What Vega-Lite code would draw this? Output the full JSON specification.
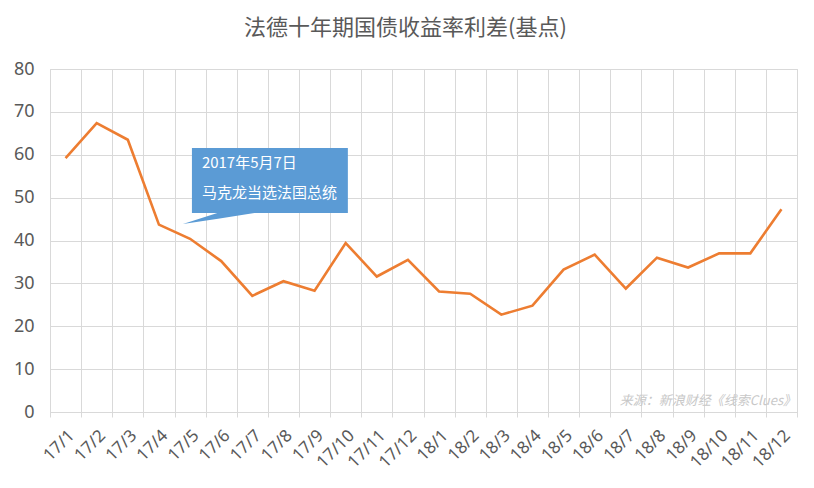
{
  "$schema": "https://vega.github.io/schema/vega-lite/v6.json",
  "autosize": "none",
  "width": 747,
  "height": 343,
  "padding": {"left": 50, "top": 69, "right": 17, "bottom": 76},
  "background": "white",
  "title": {
    "text": "法德十年期国债收益率利差(基点)",
    "font": "Noto Sans CJK SC",
    "fontSize": 22,
    "fontWeight": "normal",
    "color": "#595959",
    "anchor": "middle",
    "offset": 20,
    "dx": -18
  },
  "config": {"view": {"stroke": "#d9d9d9"}},
  "resolve": {"scale": {"x": "independent"}},
  "layer": [
    {
      "data": {
        "values": [
          {"month": "17/1", "value": 59.2},
          {"month": "17/2", "value": 67.4},
          {"month": "17/3", "value": 63.5},
          {"month": "17/4", "value": 43.7},
          {"month": "17/5", "value": 40.4},
          {"month": "17/6", "value": 35.2},
          {"month": "17/7", "value": 27.1},
          {"month": "17/8", "value": 30.5},
          {"month": "17/9", "value": 28.3},
          {"month": "17/10", "value": 39.4},
          {"month": "17/11", "value": 31.6},
          {"month": "17/12", "value": 35.5},
          {"month": "18/1", "value": 28.1},
          {"month": "18/2", "value": 27.6},
          {"month": "18/3", "value": 22.7},
          {"month": "18/4", "value": 24.8},
          {"month": "18/5", "value": 33.2},
          {"month": "18/6", "value": 36.7},
          {"month": "18/7", "value": 28.8},
          {"month": "18/8", "value": 36.0},
          {"month": "18/9", "value": 33.7},
          {"month": "18/10", "value": 37.0},
          {"month": "18/11", "value": 37.0},
          {"month": "18/12", "value": 47.3}
        ]
      },
      "mark": {"type": "line", "color": "#ED7D31", "strokeWidth": 2.6},
      "encoding": {
        "x": {
          "field": "month",
          "type": "ordinal",
          "sort": null,
          "scale": {"type": "band", "paddingInner": 0, "paddingOuter": 0},
          "axis": {
            "title": null,
            "tickBand": "extent",
            "grid": true,
            "gridColor": "#d9d9d9",
            "domain": true,
            "domainColor": "#d9d9d9",
            "ticks": true,
            "tickColor": "#d9d9d9",
            "tickSize": 5,
            "labelAngle": -45,
            "labelFont": "Noto Sans",
            "labelFontSize": 17,
            "labelColor": "#595959",
            "labelPadding": 10
          }
        },
        "y": {
          "field": "value",
          "type": "quantitative",
          "scale": {"domain": [0, 80], "nice": false},
          "axis": {
            "title": null,
            "values": [0, 10, 20, 30, 40, 50, 60, 70, 80],
            "grid": true,
            "gridColor": "#d9d9d9",
            "domain": false,
            "ticks": false,
            "labelFont": "Noto Sans",
            "labelFontSize": 18,
            "labelColor": "#595959",
            "labelPadding": 16
          }
        }
      }
    },
    {
      "data": {"values": [{"x": 4.56, "x2": 9.57, "y": 61.6, "y2": 46.4}]},
      "mark": {"type": "rect", "fill": "#5B9BD5"},
      "encoding": {
        "x": {"field": "x", "type": "quantitative", "scale": {"domain": [0, 24], "nice": false, "zero": false}, "axis": null},
        "x2": {"field": "x2"},
        "y": {"field": "y", "type": "quantitative", "axis": {"title": null}},
        "y2": {"field": "y2"}
      }
    },
    {
      "data": {
        "values": [
          {"px": 4.27, "top": 43.85, "bot": 43.85},
          {"px": 5.4, "top": 46.5, "bot": 45.06},
          {"px": 6.65, "top": 46.5, "bot": 46.5}
        ]
      },
      "mark": {"type": "area", "fill": "#5B9BD5", "interpolate": "linear"},
      "encoding": {
        "x": {"field": "px", "type": "quantitative", "scale": {"domain": [0, 24], "nice": false, "zero": false}, "axis": null},
        "y": {"field": "top", "type": "quantitative", "axis": {"title": null}},
        "y2": {"field": "bot"}
      }
    },
    {
      "data": {
        "values": [
          {"x": 4.88, "y": 58.1, "t": "2017年5月7日"},
          {"x": 4.88, "y": 51.1, "t": "马克龙当选法国总统"}
        ]
      },
      "mark": {"type": "text", "align": "left", "baseline": "middle", "font": "Noto Sans CJK SC", "fontSize": 15, "color": "white"},
      "encoding": {
        "x": {"field": "x", "type": "quantitative", "scale": {"domain": [0, 24], "nice": false, "zero": false}, "axis": null},
        "y": {"field": "y", "type": "quantitative", "axis": {"title": null}},
        "text": {"field": "t"}
      }
    },
    {
      "data": {"values": [{"x": 24, "y": 2.6, "t": "来源：新浪财经《线索Clues》"}]},
      "mark": {"type": "text", "align": "right", "baseline": "middle", "dx": -1, "font": "Noto Sans CJK SC", "fontSize": 13, "fontStyle": "italic", "color": "#c8c8c8"},
      "encoding": {
        "x": {"field": "x", "type": "quantitative", "scale": {"domain": [0, 24], "nice": false, "zero": false}, "axis": null},
        "y": {"field": "y", "type": "quantitative", "axis": {"title": null}},
        "text": {"field": "t"}
      }
    }
  ]
}
